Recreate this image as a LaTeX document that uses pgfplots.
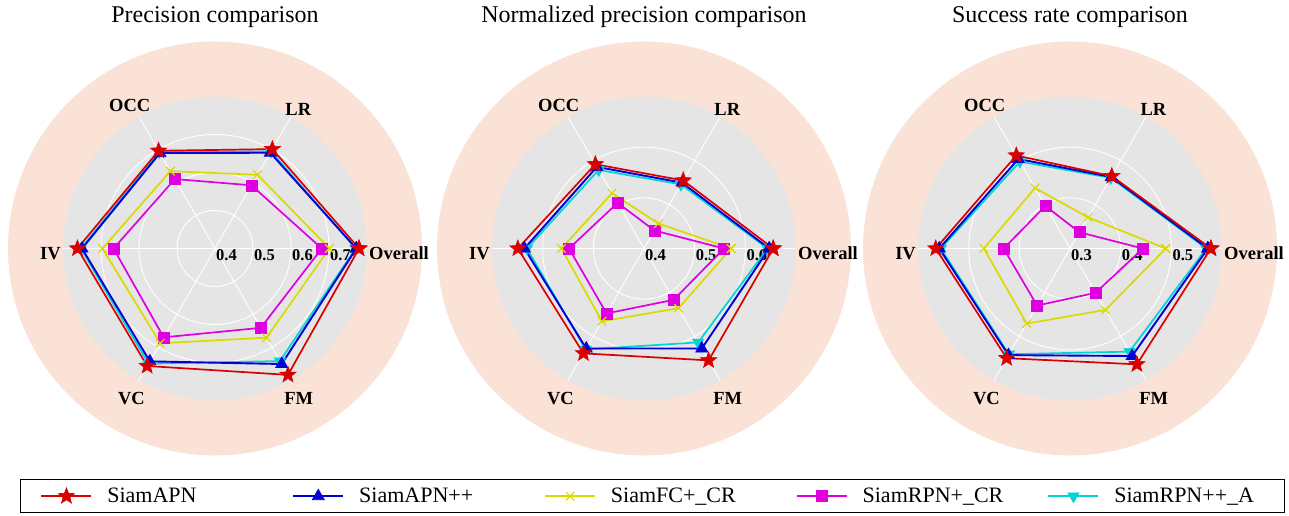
\documentclass[border=0pt]{standalone}
\usepackage{fontspec}
\setmainfont{Liberation Serif}
\usepackage{pgfplots}
\usepackage{pgfplotstable}
\pgfplotsset{compat=1.18}
\usepgfplotslibrary{polar}

\definecolor{peach}{RGB}{250,227,214}
\definecolor{panel}{RGB}{229,229,229}
\definecolor{cRed}{RGB}{218,0,0}
\definecolor{cBlue}{RGB}{0,0,215}
\definecolor{cYel}{RGB}{218,218,0}
\definecolor{cMag}{RGB}{222,0,222}
\definecolor{cCyan}{RGB}{0,212,212}

% filled five-pointed star
\pgfdeclareplotmark{fstar}{%
  \pgfpathmoveto{\pgfpointpolar{90}{\pgfplotmarksize}}%
  \pgfpathlineto{\pgfpointpolar{126}{0.42*\pgfplotmarksize}}%
  \pgfpathlineto{\pgfpointpolar{162}{\pgfplotmarksize}}%
  \pgfpathlineto{\pgfpointpolar{198}{0.42*\pgfplotmarksize}}%
  \pgfpathlineto{\pgfpointpolar{234}{\pgfplotmarksize}}%
  \pgfpathlineto{\pgfpointpolar{270}{0.42*\pgfplotmarksize}}%
  \pgfpathlineto{\pgfpointpolar{306}{\pgfplotmarksize}}%
  \pgfpathlineto{\pgfpointpolar{342}{0.42*\pgfplotmarksize}}%
  \pgfpathlineto{\pgfpointpolar{18}{\pgfplotmarksize}}%
  \pgfpathlineto{\pgfpointpolar{54}{0.42*\pgfplotmarksize}}%
  \pgfpathclose
  \pgfusepathqfillstroke}

\pgfplotsset{
  radar/.style={
    scale only axis, width=304pt, height=304pt,
    anchor=center,
    ymin=0,
    xtick={0,60,...,300},
    xticklabels={Overall,LR,OCC,IV,VC,FM},
    xticklabel style={font=\bfseries\fontsize{18.5}{20}\selectfont, inner sep=2pt, yshift=-5pt},
    yticklabel style={font=\bfseries\fontsize{16.5}{17}\selectfont, anchor=north west, inner sep=1pt},
    grid=major,
    major grid style={white, line width=0.9pt},
    axis line style={draw=none},
    major tick length=0pt,
  },
  sAPN/.style={cRed, line width=1.7pt, mark=fstar, mark size=8.5pt, mark options={fill=cRed, line width=0.6pt}},
  sAPNpp/.style={cBlue, line width=1.9pt, mark=triangle*, mark size=7pt, mark options={fill=cBlue, line width=0.6pt}},
  sFCcr/.style={cYel, line width=1.7pt, mark=x, mark size=6pt, mark options={line width=1.2pt}},
  sRPNcr/.style={cMag, line width=1.7pt, mark=square*, mark size=5.5pt, mark options={fill=cMag, line width=0.6pt}},
  sRPNa/.style={cCyan, line width=1.7pt, mark=triangle*, mark size=6.5pt, mark options={fill=cCyan, rotate=180, line width=0.6pt}},
}

% angle: Overall 0, LR 60, OCC 120, IV 180, VC 240, FM 300 (row 360 closes the loop)
\pgfplotstableread{
ang apn   apnpp fccr  rpncr rppa
0   0.779 0.772 0.701 0.681 0.770
60  0.702 0.691 0.624 0.592 0.695
120 0.697 0.690 0.635 0.611 0.693
180 0.762 0.750 0.696 0.667 0.753
240 0.757 0.743 0.688 0.670 0.750
300 0.784 0.751 0.671 0.641 0.742
360 0.779 0.772 0.701 0.681 0.770
}\precision

\pgfplotstableread{
ang apn   apnpp fccr  rpncr rppa
0   0.655 0.647 0.572 0.558 0.644
60  0.555 0.550 0.457 0.441 0.546
120 0.592 0.586 0.526 0.504 0.579
180 0.649 0.636 0.563 0.548 0.631
240 0.639 0.628 0.566 0.548 0.630
300 0.655 0.628 0.536 0.517 0.614
360 0.655 0.647 0.572 0.558 0.644
}\normprec

\pgfplotstableread{
ang apn   apnpp fccr  rpncr rppa
0   0.578 0.572 0.489 0.444 0.569
60  0.465 0.463 0.371 0.337 0.461
120 0.512 0.504 0.438 0.397 0.498
180 0.565 0.558 0.470 0.431 0.555
240 0.550 0.543 0.471 0.430 0.541
300 0.564 0.545 0.440 0.401 0.535
360 0.578 0.572 0.489 0.444 0.569
}\success

\begin{document}
\begin{tikzpicture}
\path[use as bounding box] (0pt,0pt) rectangle (1289pt,-516pt);

\foreach \cx in {215,644,1070}{
  \fill[peach] (\cx pt,-248.5pt) circle (207pt);
  \fill[panel] (\cx pt,-248.5pt) circle (152pt);
}

\node[font=\fontsize{24}{27}\selectfont] at (215pt,-17pt) {Precision comparison};
\node[font=\fontsize{24}{27}\selectfont] at (644pt,-17pt) {Normalized precision comparison};
\node[font=\fontsize{24}{27}\selectfont] at (1070pt,-17pt) {Success rate comparison};

% Precision
\begin{polaraxis}[radar, at={(215pt,-248.5pt)}, ymax=0.4,
  ytick={0,0.1,0.2,0.3}, yticklabels={0.4,0.5,0.6,0.7},
  y filter/.expression={y-0.4}]
\addplot[sRPNcr] table[x=ang, y=rpncr] {\precision};
\addplot[sFCcr]  table[x=ang, y=fccr]  {\precision};
\addplot[sRPNa]  table[x=ang, y=rppa]  {\precision};
\addplot[sAPNpp] table[x=ang, y=apnpp] {\precision};
\addplot[sAPN]   table[x=ang, y=apn]   {\precision};
\end{polaraxis}

% Normalized precision
\begin{polaraxis}[radar, at={(644pt,-248.5pt)}, ymax=0.3,
  ytick={0,0.1,0.2}, yticklabels={0.4,0.5,0.6},
  y filter/.expression={y-0.4}]
\addplot[sRPNcr] table[x=ang, y=rpncr] {\normprec};
\addplot[sFCcr]  table[x=ang, y=fccr]  {\normprec};
\addplot[sRPNa]  table[x=ang, y=rppa]  {\normprec};
\addplot[sAPNpp] table[x=ang, y=apnpp] {\normprec};
\addplot[sAPN]   table[x=ang, y=apn]   {\normprec};
\end{polaraxis}

% Success rate
\begin{polaraxis}[radar, at={(1070pt,-248.5pt)}, ymax=0.3,
  ytick={0,0.1,0.2}, yticklabels={0.3,0.4,0.5},
  y filter/.expression={y-0.3}]
\addplot[sRPNcr] table[x=ang, y=rpncr] {\success};
\addplot[sFCcr]  table[x=ang, y=fccr]  {\success};
\addplot[sRPNa]  table[x=ang, y=rppa]  {\success};
\addplot[sAPNpp] table[x=ang, y=apnpp] {\success};
\addplot[sAPN]   table[x=ang, y=apn]   {\success};
\end{polaraxis}

% shared legend
\begin{axis}[hide axis, scale only axis, width=10pt, height=10pt,
  at={(652.5pt,-496pt)}, anchor=center,
  xmin=0, xmax=1, ymin=0, ymax=1,
  legend columns=5,
  legend style={at={(0.5,0.5)}, anchor=center, draw=black, line width=1.3pt,
    inner xsep=20pt, inner ysep=8pt,
    font=\fontsize{22}{24}\selectfont, nodes={inner sep=0pt},
    /tikz/every odd column/.append style={column sep=15pt},
    /tikz/every even column/.append style={column sep=35pt}},
  legend image code/.code={\draw[mark repeat=2, mark phase=2, #1]
    plot coordinates {(0pt,0pt) (25pt,0pt) (50pt,0pt)};},
]
\addlegendimage{sAPN}
\addlegendimage{sAPNpp}
\addlegendimage{sFCcr}
\addlegendimage{sRPNcr}
\addlegendimage{sRPNa}
\legend{\makebox[150pt][l]{SiamAPN}, \makebox[150pt][l]{SiamAPN++},
  \makebox[150pt][l]{SiamFC+\_CR}, \makebox[150pt][l]{SiamRPN+\_CR},
  \makebox[150pt][l]{SiamRPN++\_A}}
\end{axis}
\end{tikzpicture}
\end{document}
